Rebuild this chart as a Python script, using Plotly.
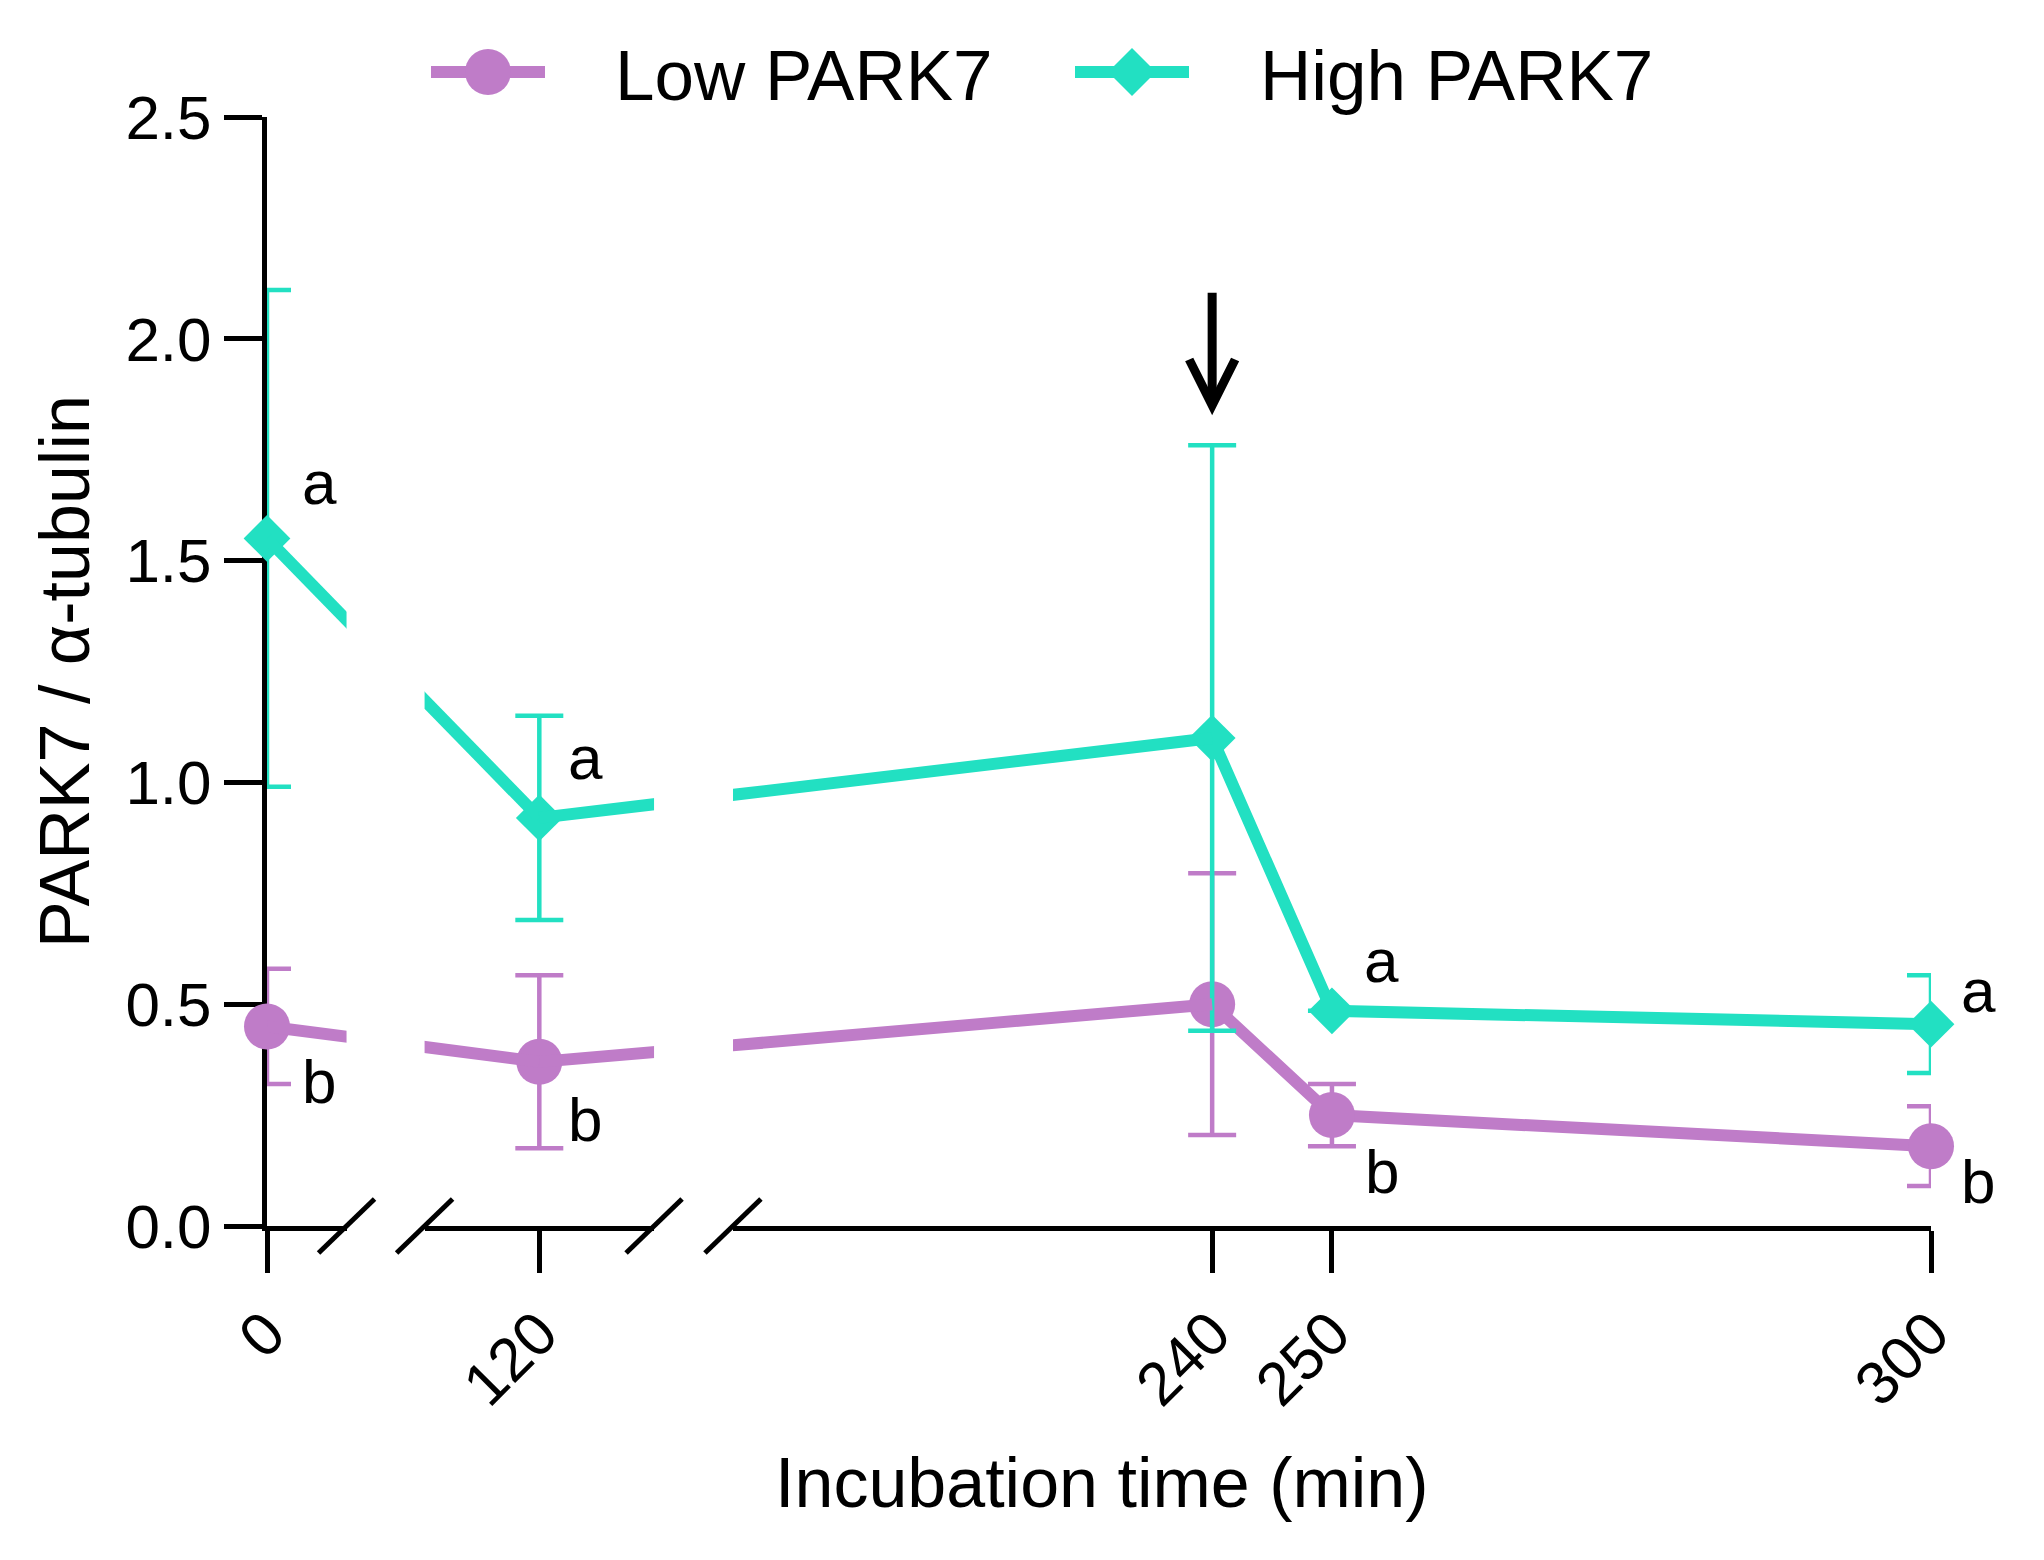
import numpy as np
import plotly.graph_objects as go

# ---------------- data ----------------
time_min = [0, 120, 240, 250, 300]
low_mean = [0.45, 0.37, 0.50, 0.25, 0.18]
low_sd = [0.13, 0.195, 0.295, 0.07, 0.09]
high_mean = [1.55, 0.92, 1.10, 0.485, 0.455]
high_sd = [0.56, 0.23, 0.66, 0.0, 0.11]
low_letters = ["b", "b", "", "b", "b"]
high_letters = ["a", "a", "", "a", "a"]
series_names = ["Low PARK7", "High PARK7"]
x_tick_values = [0, 120, 240, 250, 300]
y_tick_values = [0.0, 0.5, 1.0, 1.5, 2.0, 2.5]
arrow_time = 240
x_title = "Incubation time (min)"
y_title = "PARK7 / α-tubulin"

# ---------------- style / layout ----------------
W, H = 2044, 1560
ML, MR, MT, MB = 267, 113, 117, 334
PW, PH = W - ML - MR, H - MT - MB
FONT = "Liberation Sans, Arial, sans-serif"
PURPLE = "#BF7CC8"
TEAL = "#22E0C2"
colors = [PURPLE, TEAL]
symbols = ["circle", "diamond"]
marker_sizes = [46, 36]
LINE_W = 12
AXIS_W = 5

# broken x axis: three linear segments
segments = [
    dict(range=[0, 35], domain=[0.0, 0.0478]),
    dict(range=[70, 170], domain=[0.0947, 0.2326]),
    dict(range=[200, 300], domain=[0.2800, 1.0]),
]
# letter offsets (px) per time point
letter_dx = [52, 46, 0, 50, 47]
letter_dy_high = [56, 60, 0, 50, 34]
letter_dy_low = [55, 58, 0, 56, 35]

t = np.array(time_min, dtype=float)
series = [
    (np.array(low_mean), np.array(low_sd), low_letters, letter_dy_low, -1),
    (np.array(high_mean), np.array(high_sd), high_letters, letter_dy_high, 1),
]

def axname(k, long=False):
    if k == 0:
        return "xaxis" if long else "x"
    return f"xaxis{k+1}" if long else f"x{k+1}"

def seg_of(val):
    for k, s in enumerate(segments):
        if s["range"][0] <= val <= s["range"][1]:
            return k
    return None

def frac_of(val):
    """position of a time value along the whole (broken) axis, as a domain fraction"""
    s = segments[seg_of(val)]
    (r0, r1), (d0, d1) = s["range"], s["domain"]
    return d0 + (val - r0) / (r1 - r0) * (d1 - d0)

fig = go.Figure()
layout_axes = {}

# Lines that jump across a break: the broken axis joins the two points with a
# straight line that is hidden inside the gap.  For every segment the joining
# line passes through, a hidden overlay axis is scaled so that the two end
# points land at their positions on the broken axis.
next_ax = len(segments)
for j in range(len(time_min) - 1):
    ta, tb = t[j], t[j + 1]
    sa, sb = seg_of(ta), seg_of(tb)
    if sa == sb:
        continue
    fa, fb = frac_of(ta), frac_of(tb)
    for s in range(sa, sb + 1):
        d0, d1 = segments[s]["domain"]
        lo = ta + (d0 - fa) / (fb - fa) * (tb - ta)
        hi = ta + (d1 - fa) / (fb - fa) * (tb - ta)
        name_long, name_short = axname(next_ax, True), axname(next_ax)
        layout_axes[name_long] = dict(
            overlaying=axname(s), domain=[d0, d1], range=[lo, hi],
            visible=False, fixedrange=True, anchor="y",
        )
        for i, (m, sd, _, _, _) in enumerate(series):
            fig.add_trace(go.Scatter(
                x=[ta, tb], y=[m[j], m[j + 1]], mode="lines",
                name=series_names[i],
                line=dict(color=colors[i], width=LINE_W),
                xaxis=name_short, yaxis="y", showlegend=False, hoverinfo="skip",
            ))
        next_ax += 1

# markers, error bars and in-segment lines for the points inside each segment
for k, seg in enumerate(segments):
    r0, r1 = seg["range"]
    mask = (t >= r0) & (t <= r1)
    for i, (m, sd, _, _, _) in enumerate(series):
        fig.add_trace(go.Scatter(
            x=t[mask], y=m[mask], mode="lines+markers", name=series_names[i],
            line=dict(color=colors[i], width=LINE_W),
            marker=dict(symbol=symbols[i], size=marker_sizes[i], color=colors[i],
                        line=dict(width=0)),
            error_y=dict(type="data", array=sd[mask], visible=True,
                         color=colors[i], thickness=4.5, width=24),
            cliponaxis=False, xaxis=axname(k), yaxis="y",
            showlegend=False,
        ))

# visible axes
axis_common = dict(
    showline=True, linecolor="black", linewidth=AXIS_W,
    ticks="outside", ticklen=42, tickwidth=AXIS_W, tickcolor="black",
    showgrid=False, zeroline=False, layer="below traces",
    tickfont=dict(family=FONT, size=61, color="black"),
    tickangle=-45, anchor="y", fixedrange=True,
)
for k, seg in enumerate(segments):
    r0, r1 = seg["range"]
    tv = [v for v in x_tick_values if r0 <= v <= r1]
    layout_axes[axname(k, long=True)] = dict(
        axis_common, range=seg["range"], domain=seg["domain"],
        tickmode="array", tickvals=tv, ticktext=[str(v) for v in tv],
    )

fig.update_layout(
    **layout_axes,
    yaxis=dict(
        range=[0, 2.5], domain=[0, 1], anchor="x",
        tickmode="array", tickvals=y_tick_values,
        ticktext=[f"{v:.1f}" for v in y_tick_values],
        showline=True, linecolor="black", linewidth=AXIS_W,
        ticks="outside", ticklen=38, tickwidth=AXIS_W, tickcolor="black",
        showgrid=False, zeroline=False, layer="below traces",
        tickfont=dict(family=FONT, size=62, color="black"),
        ticklabelstandoff=0,
        title=dict(text=y_title, font=dict(family=FONT, size=70, color="black"),
                   standoff=14),
        fixedrange=True,
    ),
    width=W, height=H,
    margin=dict(l=ML, r=MR, t=MT, b=MB, pad=0),
    paper_bgcolor="white", plot_bgcolor="white",
    showlegend=False,
    font=dict(family=FONT, color="black"),
)

# ---------------- break marks on the x axis ----------------
shapes = []
for k in range(len(segments)):
    ends = []
    if k > 0:
        ends.append(0)
    if k < len(segments) - 1:
        ends.append(1)
    for e in ends:
        shapes.append(dict(
            type="line", xref=f"{axname(k)} domain", yref="y domain",
            xsizemode="pixel", ysizemode="pixel", xanchor=e, yanchor=0,
            x0=-28, x1=28, y0=-27, y1=27,
            line=dict(color="black", width=AXIS_W), layer="above",
        ))

# ---------------- legend (drawn glyphs + text) ----------------
def px_x(px):
    return (px - ML) / PW

def px_y(py):
    return (H - MB - py) / PH

legend_centers = [488, 1132]
legend_text_x = [613, 1258]
legend_y = 72
annotations = []
for i in range(2):
    c = legend_centers[i]
    shapes.append(dict(type="line", xref="paper", yref="paper",
                       x0=px_x(c - 57), x1=px_x(c + 57),
                       y0=px_y(legend_y), y1=px_y(legend_y),
                       line=dict(color=colors[i], width=12)))
    if symbols[i] == "circle":
        shapes.append(dict(type="circle", xref="paper", yref="paper",
                           xsizemode="pixel", ysizemode="pixel",
                           xanchor=px_x(c), yanchor=px_y(legend_y),
                           x0=-23, x1=23, y0=-23, y1=23,
                           fillcolor=colors[i], line=dict(width=0)))
    else:
        shapes.append(dict(type="path", xref="paper", yref="paper",
                           xsizemode="pixel", ysizemode="pixel",
                           xanchor=px_x(c), yanchor=px_y(legend_y),
                           path="M-24,0 L0,24 L24,0 L0,-24 Z",
                           fillcolor=colors[i], line=dict(width=0)))
    annotations.append(dict(
        text=series_names[i], xref="paper", yref="paper",
        x=px_x(legend_text_x[i]), y=px_y(legend_y + 3),
        xanchor="left", yanchor="middle", showarrow=False,
        font=dict(family=FONT, size=71, color="black"),
    ))

# ---------------- significance letters ----------------
for (m, sd, letters, dys, sign) in series:
    for j, tv in enumerate(time_min):
        if not letters[j]:
            continue
        k = seg_of(tv)
        annotations.append(dict(
            text=letters[j], xref=axname(k), yref="y", x=tv, y=m[j],
            xshift=letter_dx[j], yshift=sign * dys[j], showarrow=False,
            xanchor="center", yanchor="middle",
            font=dict(family=FONT, size=62, color="black"),
        ))

# ---------------- arrow marking 240 min ----------------
ia = time_min.index(arrow_time)
annotations.append(dict(
    text="", xref=axname(seg_of(arrow_time)), yref="y",
    x=arrow_time, y=high_mean[ia] + high_sd[ia],
    showarrow=True, ax=0, ay=-154, axref="pixel", ayref="pixel",
    arrowhead=5, arrowsize=1, arrowwidth=9, arrowcolor="black", standoff=30,
))

# ---------------- x axis title ----------------
annotations.append(dict(
    text=x_title, xref="paper", yref="paper", x=0.502, y=px_y(1483),
    xanchor="center", yanchor="middle", showarrow=False,
    font=dict(family=FONT, size=70, color="black"),
))

fig.update_layout(shapes=shapes, annotations=annotations)

fig.write_html(
    "out.html",
    config={"displayModeBar": False, "staticPlot": True},
    post_script="document.body.style.margin='0';document.body.style.overflow='hidden';",
)
